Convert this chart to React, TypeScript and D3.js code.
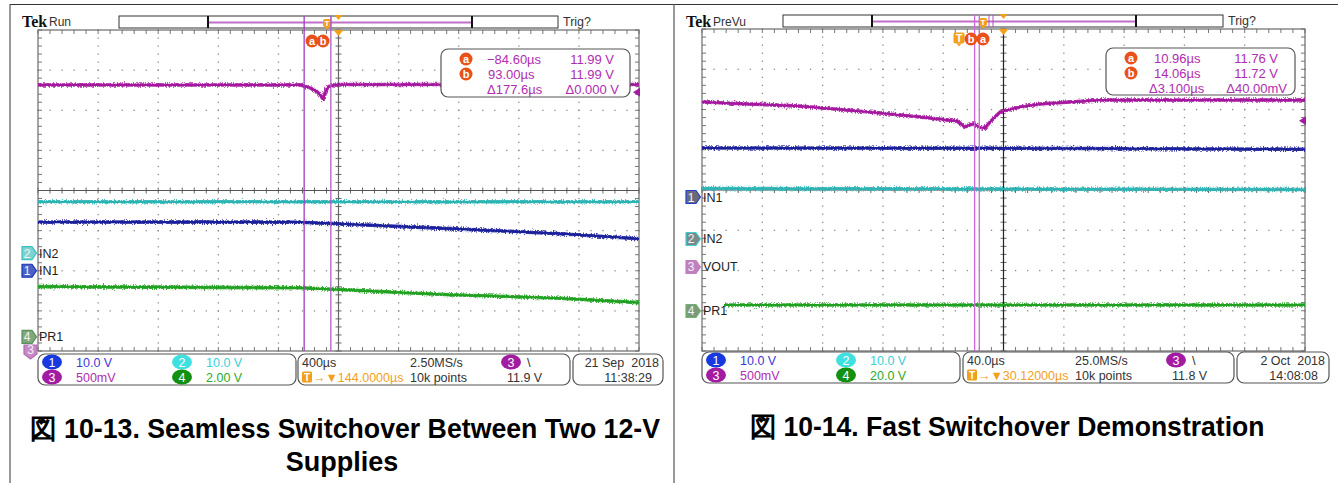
import React from "react";
import * as d3 from "d3";

// ---------------- Data: 図 10-13 (400 µs/div, trigger→center 144 µs) ----------------
const L_VOUT_T = [-1856, -109, -43, 2, 42, 57, 77, 137, 2144];
const L_VOUT_V = [11.99, 11.99, 11.953, 11.907, 11.816, 11.907, 11.969, 11.995, 11.995];
const L_IN2_T = [-1856, 2144];
const L_IN2_V = [12.79, 12.79];
const L_IN1_T = [-1856, -109, 889, 1621, 2144];
const L_IN1_V = [12.14, 12.1, 10.5, 9.23, 7.98];
const L_PR1_T = [-1856, -109, 889, 1621, 2144];
const L_PR1_V = [2.51, 2.45, 2.1, 1.93, 1.71];
const L_CURSOR_T = [-84.6, 93.0];

// ---------------- Data: 図 10-14 (40 µs/div, trigger→center 30.12 µs) ----------------
const R_VOUT_T = [-169.88, -104.9, -51.8, -18.7, -0.7, 2.6, 4.6, 9.2, 11.0, 14.0, 17.8, 21.2, 27.8, 41.0, 54.3, 94.1, 230.12];
const R_VOUT_V = [12.033, 11.983, 11.897, 11.834, 11.797, 11.747, 11.723, 11.76, 11.76, 11.72, 11.71, 11.785, 11.909, 11.971, 12.008, 12.058, 12.058];
const R_IN1_T = [-169.88, 30, 230.12];
const R_IN1_V = [12.17, 12.12, 11.85];
const R_IN2_T = [-169.88, 230.12];
const R_IN2_V = [12.55, 12.3];
const R_PR1_T = [-155.3, 230.12];
const R_PR1_V = [2.98, 2.98];
const R_CURSOR_T = [10.96, 14.06];

// ---------------- Texts ----------------
const L_READOUT = [
  ["a", "\u221284.60\u00b5s", "11.99 V"],
  ["b", "93.00\u00b5s", "11.99 V"],
  ["", "\u0394177.6\u00b5s", "\u03940.000 V"],
];
const R_READOUT = [
  ["a", "10.96\u00b5s", "11.76 V"],
  ["b", "14.06\u00b5s", "11.72 V"],
  ["", "\u03943.100\u00b5s", "\u039440.00mV"],
];
const L_STATUS = { ch: ["10.0 V", "10.0 V", "500mV", "2.00 V"], tb: "400\u00b5s", rate: "2.50MS/s", pos: "144.0000\u00b5s", pts: "10k points", lvl: "11.9 V", date: "21 Sep  2018", time: "11:38:29" };
const R_STATUS = { ch: ["10.0 V", "10.0 V", "500mV", "20.0 V"], tb: "40.0\u00b5s", rate: "25.0MS/s", pos: "30.12000\u00b5s", pts: "10k points", lvl: "11.8 V", date: "2 Oct  2018", time: "14:08:08" };
const CAPTION_L1 = "\u56f3 10-13. Seamless Switchover Between Two 12-V";
const CAPTION_L2 = "Supplies";
const CAPTION_R = "\u56f3 10-14. Fast Switchover Demonstration";

// ---------------- Styles ----------------
const SANS = "'Liberation Sans', Arial, sans-serif";
const C1 = { trace: "#1a1f9a", badge: "#1838e0", text: "#3a3ad8" };
const C2 = { trace: "#2cb4b4", badge: "#3ee0e0", text: "#38d0d8" };
const C3 = { trace: "#a4169e", badge: "#a21ca2", text: "#b02cb0" };
const C4 = { trace: "#1fa01f", badge: "#129012", text: "#2aaa2a" };
const ORANGE = "#f2a01c";
const CUR_LABEL = "#e8521a";

function Graticule({ x0, y0, w, h, vColor }) {
  const dw = w / 10, dh = h / 8;
  const items = [];
  for (let i = 1; i < 10; i++) {
    if (i === 5) continue;
    for (let k = 0; k <= 40; k++) items.push(<rect key={`v${i}_${k}`} x={x0 + i * dw - 0.6} y={y0 + (k * dh) / 5 - 0.6} width={1.3} height={1.3} fill="#8a8a8a" />);
  }
  for (let j = 1; j < 8; j++) {
    if (j === 4) continue;
    for (let k = 0; k <= 50; k++) items.push(<rect key={`h${j}_${k}`} x={x0 + (k * dw) / 5 - 0.6} y={y0 + j * dh - 0.6} width={1.3} height={1.3} fill="#8a8a8a" />);
  }
  const cx = x0 + w / 2, cy = y0 + h / 2;
  for (let k = 0; k <= 50; k++) {
    const x = x0 + (k * dw) / 5;
    items.push(<line key={`tc${k}`} x1={x} x2={x} y1={cy - 3} y2={cy + 3} stroke="#666" strokeWidth={1} />);
    items.push(<line key={`tt${k}`} x1={x} x2={x} y1={y0} y2={y0 + 4} stroke="#777" strokeWidth={1} />);
    items.push(<line key={`tb${k}`} x1={x} x2={x} y1={y0 + h - 4} y2={y0 + h} stroke="#777" strokeWidth={1} />);
  }
  for (let k = 0; k <= 40; k++) {
    const y = y0 + (k * dh) / 5;
    items.push(<line key={`vc${k}`} x1={cx - 3} x2={cx + 3} y1={y} y2={y} stroke="#666" strokeWidth={1} />);
    items.push(<line key={`vl${k}`} x1={x0} x2={x0 + 4} y1={y} y2={y} stroke="#777" strokeWidth={1} />);
    items.push(<line key={`vr${k}`} x1={x0 + w - 4} x2={x0 + w} y1={y} y2={y} stroke="#777" strokeWidth={1} />);
  }
  return (
    <g>
      {items}
      <line x1={x0} x2={x0 + w} y1={cy} y2={cy} stroke="#555" strokeWidth={1} />
      <line x1={cx} x2={cx} y1={y0} y2={y0 + h} stroke={vColor} strokeWidth={1.2} />
      <rect x={x0} y={y0} width={w} height={h} fill="none" stroke="#6a6a6a" strokeWidth={1.2} />
    </g>
  );
}

function Badge({ x, y, n, fill }) {
  return (
    <g>
      <ellipse cx={x} cy={y} rx={10} ry={7.5} fill={fill} />
      <text x={x} y={y + 4.5} textAnchor="middle" fontSize={12.5} fill="#fff" fontFamily={SANS}>{n}</text>
    </g>
  );
}

function CurLabel({ x, y, t }) {
  return (
    <g>
      <circle cx={x} cy={y} r={6.5} fill={CUR_LABEL} />
      <text x={x} y={y + 4} textAnchor="middle" fontSize={11} fontWeight="bold" fill="#fff" fontFamily={SANS}>{t}</text>
    </g>
  );
}

function TLabel({ x, y, small }) {
  const s = small ? 8 : 11;
  return (
    <g>
      <rect x={x - s / 2} y={y - s / 2} width={s} height={s} rx={2} fill={ORANGE} />
      <path d={`M${x - 2.5},${y + s / 2} L${x + 2.5},${y + s / 2} L${x},${y + s / 2 + 3} Z`} fill={ORANGE} />
      <text x={x} y={y + s * 0.36} textAnchor="middle" fontSize={s} fontWeight="bold" fill="#fff" fontFamily={SANS}>T</text>
    </g>
  );
}

function ChTag({ x, y, n, fill, stroke, label, down }) {
  const shape = down
    ? `M${x},${y - 7} h13 v9 l-6.5,5 l-6.5,-5 z`
    : `M${x},${y - 6.5} h10 l4.5,6.5 l-4.5,6.5 h-10 z`;
  return (
    <g>
      <path d={shape} fill={fill} stroke={stroke} strokeWidth={1.2} strokeLinejoin="round" />
      <text x={down ? x + 6.5 : x + 5} y={down ? y + 2 : y + 4.5} textAnchor="middle" fontSize={12} fill="#f4f4f4" fontFamily={SANS}>{n}</text>
      {label && <text x={x + 17} y={y + 4.5} fontSize={12.5} fill="#222" fontFamily={SANS}>{label}</text>}
    </g>
  );
}

function Scope({ cfg }) {
  const { g, tdiv, delay, ch, traces, cursors, curColor, readout, rbox, status, sb, top, trigLevel, tags } = cfg;
  const x = d3.scaleLinear().domain([delay - 5 * tdiv, delay + 5 * tdiv]).range([g.x0, g.x0 + g.w]);
  const cy = g.y0 + g.h / 2;
  const dh = g.h / 8;
  const yOf = (c) => {
    const center = c.offset - c.pos * c.vdiv;
    return d3.scaleLinear().domain([center - 4 * c.vdiv, center + 4 * c.vdiv]).range([g.y0 + g.h, g.y0]);
  };
  const line = (T, V, ys) => d3.line().x((_, i) => x(T[i])).y((_, i) => ys(V[i]))(T.map((t, i) => [t, V[i]]));
  const clipId = `clip${g.x0}`;
  const ch3y = yOf(ch[2]);

  const r1 = sb.y0 + 8, r2 = sb.y0 + 23;
  const st = status;

  return (
    <g>
      <defs>
        <clipPath id={clipId}><rect x={g.x0} y={g.y0} width={g.w} height={g.h} /></clipPath>
      </defs>
      {/* top bar */}
      <text x={top.tekX} y={27} fontFamily="'Liberation Serif', 'Times New Roman', serif" fontWeight="bold" fontSize={16} fill="#111">Tek</text>
      <text x={top.tekX + 27} y={26} fontFamily={SANS} fontSize={12} fill="#333">{top.mode}</text>
      <rect x={top.b0} y={top.y} width={top.b3 - top.b0} height={12} fill="#fff" stroke="#333" strokeWidth={1} />
      <line x1={top.b1} x2={top.b2} y1={top.y + 6.5} y2={top.y + 6.5} stroke="#c070c8" strokeWidth={2} />
      <line x1={top.b1} x2={top.b1} y1={top.y} y2={top.y + 12} stroke="#111" strokeWidth={2} />
      <line x1={top.b2} x2={top.b2} y1={top.y} y2={top.y + 12} stroke="#111" strokeWidth={2} />
      <text x={top.b3 + 5} y={top.y + 10} fontFamily={SANS} fontSize={12.5} fill="#333">Trig?</text>
      {top.marks.map((m, i) => (
        <line key={i} x1={m} x2={m} y1={top.y} y2={top.y + 12} stroke="#b050c0" strokeWidth={1} />
      ))}
      <TLabel x={top.tX} y={top.y + 7} small />
      <path d={`M${x(delay) - 4},${top.y - 1} L${x(delay) + 4},${top.y - 1} L${x(delay)},${top.y + 4} Z`} fill={ORANGE} />

      <rect x={g.x0} y={g.y0} width={g.w} height={g.h} fill="#fff" />
      <Graticule {...g} vColor={cfg.vColor} />

      {/* traces */}
      <g clipPath={`url(#${clipId})`}>
        {traces.map((tr, i) => {
          const d = line(tr.T, tr.V, yOf(ch[tr.ch]));
          return (
            <g key={i}>
              <path d={d} fill="none" stroke={tr.color} strokeWidth={3.6} filter="url(#noisy)" opacity={0.85} />
              <path d={d} fill="none" stroke={tr.color} strokeWidth={2.2} />
            </g>
          );
        })}
      </g>

      {/* horizontal position marker */}
      <path d={`M${x(delay) - 5},${g.y0} L${x(delay) + 5},${g.y0} L${x(delay)},${g.y0 + 6} Z`} fill={ORANGE} />

      {/* cursors */}
      {cursors.map((t, i) => (
        <line key={i} x1={x(t)} x2={x(t)} y1={top.y} y2={g.y0 + g.h} stroke={curColor[i]} strokeWidth={1.3} />
      ))}
      {cfg.curLabels.map((l, i) => (l.t === "T" ? <TLabel key={i} x={l.x} y={l.y} /> : <CurLabel key={i} x={l.x} y={l.y} t={l.t} />))}

      {/* trigger level marker */}
      <path d={`M${g.x0 + g.w - 6},${ch3y(trigLevel)} l7,-4.5 v9 z`} fill={C3.badge} />

      {/* readout */}
      <rect x={rbox.x} y={rbox.y} width={rbox.w} height={rbox.h} rx={7} fill="#fff" stroke="#555" strokeWidth={1.2} />
      {readout.map((row, i) => {
        const yy = rbox.y + 10 + i * 15;
        return (
          <g key={i}>
            {row[0] && <CurLabel x={rbox.x + rbox.bx} y={yy} t={row[0]} />}
            <text x={rbox.x + rbox.c1[i]} y={yy + 4.5} fontSize={13} fill={C3.text} fontFamily={SANS}>{row[1]}</text>
            <text x={rbox.x + rbox.c2[i]} y={yy + 4.5} fontSize={13} fill={C3.text} fontFamily={SANS} textAnchor="end">{row[2]}</text>
          </g>
        );
      })}

      {/* channel tags */}
      {tags.map((t, i) => (
        <ChTag key={i} x={t.x} y={t.down ? t.y : cy - ch[t.ch].pos * dh} n={t.ch + 1} fill={t.fill} stroke={t.stroke} label={t.label} down={t.down} />
      ))}

      {/* status bar */}
      <rect x={sb.a0} y={sb.y0} width={sb.a1 - sb.a0} height={31} rx={7} fill="#fff" stroke="#555" strokeWidth={1.2} />
      <rect x={sb.b0} y={sb.y0} width={sb.b1 - sb.b0} height={31} rx={7} fill="#fff" stroke="#555" strokeWidth={1.2} />
      <rect x={sb.c0} y={sb.y0} width={sb.c1 - sb.c0} height={31} rx={7} fill="#fff" stroke="#555" strokeWidth={1.2} />
      <Badge x={sb.a0 + 14} y={r1} n={1} fill={C1.badge} />
      <Badge x={sb.a0 + 14} y={r2} n={3} fill={C3.badge} />
      <Badge x={sb.a0 + 144} y={r1} n={2} fill={C2.badge} />
      <Badge x={sb.a0 + 144} y={r2} n={4} fill={C4.badge} />
      <text x={sb.a0 + 38} y={r1 + 4.5} fontSize={12.5} fill={C1.text} fontFamily={SANS}>{st.ch[0]}</text>
      <text x={sb.a0 + 38} y={r2 + 4.5} fontSize={12.5} fill={C3.text} fontFamily={SANS}>{st.ch[2]}</text>
      <text x={sb.a0 + 168} y={r1 + 4.5} fontSize={12.5} fill={C2.text} fontFamily={SANS}>{st.ch[1]}</text>
      <text x={sb.a0 + 168} y={r2 + 4.5} fontSize={12.5} fill={C4.text} fontFamily={SANS}>{st.ch[3]}</text>
      <text x={sb.b0 + 4} y={r1 + 4.5} fontSize={12.5} fill="#333" fontFamily={SANS}>{st.tb}</text>
      <g>
        <rect x={sb.b0 + 4} y={r2 - 5.5} width={10} height={11} rx={1.5} fill={ORANGE} />
        <text x={sb.b0 + 9} y={r2 + 4} textAnchor="middle" fontSize={10} fontWeight="bold" fill="#fff" fontFamily={SANS}>T</text>
        <text x={sb.b0 + 15} y={r2 + 4.5} fontSize={12.5} fill={ORANGE} fontFamily={SANS}>{"\u2192\u25bc" + st.pos}</text>
      </g>
      <text x={sb.b0 + 112} y={r1 + 4.5} fontSize={12.5} fill="#333" fontFamily={SANS}>{st.rate}</text>
      <text x={sb.b0 + 112} y={r2 + 4.5} fontSize={12.5} fill="#333" fontFamily={SANS}>{st.pts}</text>
      <Badge x={sb.b0 + sb.tr} y={r1} n={3} fill={C3.badge} />
      <text x={sb.b0 + sb.tr + 16} y={r1 + 4.5} fontSize={13} fill="#333" fontFamily={SANS}>\</text>
      <text x={sb.b0 + sb.tr - 4} y={r2 + 4.5} fontSize={12.5} fill="#333" fontFamily={SANS}>{st.lvl}</text>
      <text x={sb.c1 - 4} y={r1 + 4.5} fontSize={12.5} fill="#333" fontFamily={SANS} textAnchor="end" style={{ whiteSpace: "pre" }}>{st.date}</text>
      <text x={sb.c1 - 11} y={r2 + 4.5} fontSize={12.5} fill="#333" fontFamily={SANS} textAnchor="end">{st.time}</text>
    </g>
  );
}

const LEFT = {
  g: { x0: 38, y0: 30, w: 601, h: 321 },
  vColor: "#666",
  tdiv: 400,
  delay: 144,
  ch: [
    { vdiv: 10, pos: -2.0, offset: 0 },
    { vdiv: 10, pos: -1.56, offset: 0 },
    { vdiv: 0.5, pos: -4.0, offset: 8.675 },
    { vdiv: 2, pos: -3.65, offset: 0 },
  ],
  traces: [
    { ch: 1, T: L_IN2_T, V: L_IN2_V, color: C2.trace },
    { ch: 0, T: L_IN1_T, V: L_IN1_V, color: C1.trace },
    { ch: 3, T: L_PR1_T, V: L_PR1_V, color: C4.trace },
    { ch: 2, T: L_VOUT_T, V: L_VOUT_V, color: C3.trace },
  ],
  cursors: L_CURSOR_T,
  curColor: ["#a23cc2", "#b45cc8"],
  curLabels: [{ t: "a", x: 312, y: 41 }, { t: "b", x: 323, y: 41 }],
  trigLevel: 11.9,
  readout: L_READOUT,
  rbox: { x: 441, y: 49, w: 189, h: 48, bx: 25, c1: [46, 47, 46], c2: [173, 173, 178] },
  status: L_STATUS,
  sb: { y0: 354, a0: 38, a1: 296, b0: 298, b1: 570, c0: 573, c1: 663, tr: 213 },
  top: { tekX: 22, mode: "Run", y: 16, b0: 119, b1: 208, b2: 472, b3: 558, marks: [331], tX: 327 },
  tags: [
    { ch: 1, x: 22, fill: "#7fd2d2", stroke: "#3cc0c0", label: "IN2" },
    { ch: 0, x: 22, fill: "#4a62c8", stroke: "#2030b0", label: "IN1" },
    { ch: 3, x: 22, fill: "#7fa87f", stroke: "#5a905a", label: "PR1" },
    { ch: 2, x: 24, y: 352, down: true, fill: "#c888c8", stroke: "#b070b0" },
  ],
};

const RIGHT = {
  g: { x0: 702, y0: 29, w: 603, h: 322 },
  vColor: "#222",
  tdiv: 40,
  delay: 30.12,
  ch: [
    { vdiv: 10, pos: -0.174, offset: 0 },
    { vdiv: 10, pos: -1.217, offset: 0 },
    { vdiv: 0.5, pos: -1.913, offset: 9.984 },
    { vdiv: 20, pos: -3.006, offset: 0 },
  ],
  traces: [
    { ch: 0, T: R_IN1_T, V: R_IN1_V, color: C1.trace },
    { ch: 1, T: R_IN2_T, V: R_IN2_V, color: C2.trace },
    { ch: 3, T: R_PR1_T, V: R_PR1_V, color: C4.trace },
    { ch: 2, T: R_VOUT_T, V: R_VOUT_V, color: C3.trace },
  ],
  cursors: R_CURSOR_T,
  curColor: ["#c86ad6", "#c86ad6"],
  curLabels: [{ t: "T", x: 959, y: 38 }, { t: "b", x: 971, y: 39 }, { t: "a", x: 983, y: 39 }],
  trigLevel: 11.8,
  readout: R_READOUT,
  rbox: { x: 1106, y: 48, w: 189, h: 47, bx: 25, c1: [48, 48, 43], c2: [172, 172, 181] },
  status: R_STATUS,
  sb: { y0: 352, a0: 702, a1: 960, b0: 963, b1: 1234, c0: 1237, c1: 1329, tr: 213 },
  top: { tekX: 686, mode: "PreVu", y: 15, b0: 783, b1: 872, b2: 1136, b3: 1223, marks: [989, 993], tX: 983 },
  tags: [
    { ch: 0, x: 686, fill: "#6a6a7a", stroke: "#2040d0", label: "IN1" },
    { ch: 1, x: 686, fill: "#7a8a8a", stroke: "#40d0d0", label: "IN2" },
    { ch: 2, x: 686, fill: "#c080c0", stroke: "#c080c0", label: "VOUT" },
    { ch: 3, x: 686, fill: "#7a9a7a", stroke: "#70b070", label: "PR1" },
  ],
};

export default function App() {
  return (
    <div style={{ position: "absolute", left: 0, top: 0 }}>
      <svg width={1338} height={483} viewBox="0 0 1338 483" style={{ display: "block", background: "#fff" }}>
        <defs>
          <filter id="noisy" filterUnits="userSpaceOnUse" x={0} y={0} width={1338} height={483}>
            <feTurbulence type="fractalNoise" baseFrequency="0.9 0.6" numOctaves={1} seed={4} result="t" />
            <feDisplacementMap in="SourceGraphic" in2="t" scale={6} xChannelSelector="R" yChannelSelector="G" />
          </filter>
        </defs>
        <rect x={0} y={0} width={1338} height={483} fill="#fff" />
        <line x1={10} x2={1338} y1={4.5} y2={4.5} stroke="#333" strokeWidth={1.2} />
        <line x1={10} x2={10} y1={4} y2={483} stroke="#555" strokeWidth={1.2} />
        <line x1={674} x2={674} y1={4} y2={483} stroke="#555" strokeWidth={1.2} />
        <Scope cfg={LEFT} />
        <Scope cfg={RIGHT} />
        <text x={345} y={438} textAnchor="middle" fontFamily={SANS} fontWeight="bold" fontSize={27} fill="#000" textLength={630} lengthAdjust="spacingAndGlyphs">{CAPTION_L1}</text>
        <text x={342} y={471} textAnchor="middle" fontFamily={SANS} fontWeight="bold" fontSize={27} fill="#000">{CAPTION_L2}</text>
        <text x={1007} y={436} textAnchor="middle" fontFamily={SANS} fontWeight="bold" fontSize={27} fill="#000" textLength={515} lengthAdjust="spacingAndGlyphs">{CAPTION_R}</text>
      </svg>
    </div>
  );
}
